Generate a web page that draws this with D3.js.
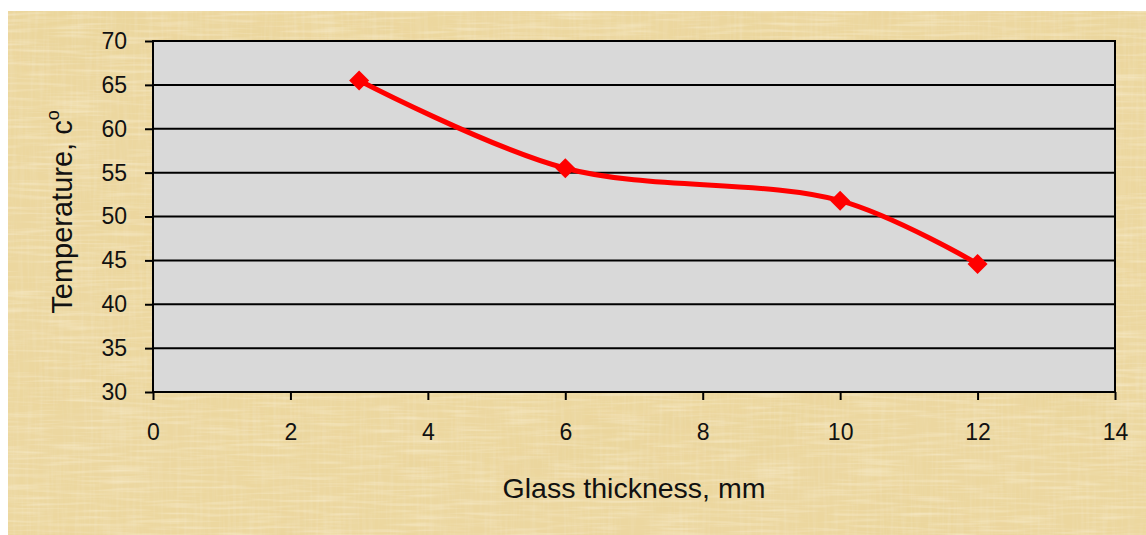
<!DOCTYPE html>
<html>
<head>
<meta charset="utf-8">
<script src="https://cdn.jsdelivr.net/npm/d3@7"></script>
<style>
  html, body { margin: 0; padding: 0; background: #ffffff; }
  svg { display: block; }
  text { font-family: "Liberation Sans", Arial, sans-serif; fill: #111; }
</style>
</head>
<body>
<svg id="chart" width="1146" height="535"></svg>
<script>
// Glass thickness (mm) against measured temperature (°C)
const thickness = [3, 6, 10, 12];
const temperature = [65.5, 55.5, 51.8, 44.6];
const xTickValues = [0, 2, 4, 6, 8, 10, 12, 14];
const yTickValues = [30, 35, 40, 45, 50, 55, 60, 65, 70];
const xTitle = "Glass thickness, mm";
const yTitle = "Temperature, c";
const yTitleSup = "o";

const W = 1146, H = 535;
const plot = { left: 153, right: 1115, top: 41, bottom: 392 };

const svg = d3.select("#chart");
const defs = svg.append("defs");

// Parchment-like backdrop: golden mottling plus a fine woven grain
function noiseFilter(id, freq, octaves, seed, matrix) {
  const f = defs.append("filter").attr("id", id)
    .attr("x", 0).attr("y", 0).attr("width", "100%").attr("height", "100%");
  f.append("feTurbulence").attr("type", "fractalNoise")
    .attr("baseFrequency", freq).attr("numOctaves", octaves).attr("seed", seed).attr("result", "n");
  f.append("feColorMatrix").attr("in", "n").attr("type", "matrix").attr("values", matrix);
}
noiseFilter("blot", "0.007 0.01", 4, 5,
  "0 0 0 0 0.83  0 0 0 0 0.67  0 0 0 0 0.33  1.7 0 0 0 -0.66");
noiseFilter("fibreV", "0.3 0.02", 2, 3,
  "0 0 0 0 0.86  0 0 0 0 0.73  0 0 0 0 0.44  1.2 0 0 0 -0.50");
noiseFilter("fibreH", "0.02 0.3", 2, 11,
  "0 0 0 0 0.97  0 0 0 0 0.90  0 0 0 0 0.72  1.0 0 0 0 -0.45");

const bg = svg.append("g");
["none", "url(#blot)", "url(#fibreV)", "url(#fibreH)"].forEach((flt, i) => {
  const r = bg.append("rect").attr("x", 8).attr("y", 11)
    .attr("width", W - 8).attr("height", H - 11);
  if (i === 0) r.attr("fill", "#ecd7a0");
  else r.attr("filter", flt);
});

// Scales
const x = d3.scaleLinear().domain([0, 14]).range([plot.left, plot.right]);
const y = d3.scaleLinear().domain([30, 70]).range([plot.bottom, plot.top]);

// Plot area
svg.append("rect")
  .attr("x", plot.left).attr("y", plot.top)
  .attr("width", plot.right - plot.left).attr("height", plot.bottom - plot.top)
  .attr("fill", "#d9d9d9");

// Horizontal gridlines
svg.append("g").selectAll("line").data(yTickValues).join("line")
  .attr("x1", plot.left).attr("x2", plot.right)
  .attr("y1", d => y(d)).attr("y2", d => y(d))
  .attr("stroke", "#000").attr("stroke-width", 2);

// Plot border
svg.append("rect")
  .attr("x", plot.left).attr("y", plot.top)
  .attr("width", plot.right - plot.left).attr("height", plot.bottom - plot.top)
  .attr("fill", "none").attr("stroke", "#000").attr("stroke-width", 2);

// Axes
const yAxis = d3.axisLeft(y).tickValues(yTickValues).tickSize(8).tickPadding(18)
  .tickFormat(d3.format("d"));
const gy = svg.append("g").attr("transform", `translate(${plot.left},0)`).call(yAxis);
gy.select(".domain").remove();
gy.selectAll(".tick line").attr("stroke", "#000").attr("stroke-width", 2);
gy.selectAll(".tick text").attr("font-size", 23).attr("fill", "#111")
  .style("font-family", "'Liberation Sans', Arial, sans-serif");

const xAxis = d3.axisBottom(x).tickValues(xTickValues).tickSize(8).tickPadding(24)
  .tickFormat(d3.format("d"));
const gx = svg.append("g").attr("transform", `translate(0,${plot.bottom})`).call(xAxis);
gx.select(".domain").remove();
gx.selectAll(".tick line").attr("stroke", "#000").attr("stroke-width", 2);
gx.selectAll(".tick text").attr("font-size", 23).attr("fill", "#111")
  .style("font-family", "'Liberation Sans', Arial, sans-serif");

// Axis titles, centred on the plot area
svg.append("text")
  .attr("x", (plot.left + plot.right) / 2).attr("y", 498)
  .attr("text-anchor", "middle").attr("font-size", 28.5)
  .text(xTitle);

const yt = svg.append("text")
  .attr("transform", "translate(72,212) rotate(-90)")
  .attr("text-anchor", "middle").attr("font-size", 29);
yt.append("tspan").text(yTitle);
yt.append("tspan").attr("font-size", 18).attr("dy", -13).text(yTitleSup);

// Series line
const pts = thickness.map((t, i) => [t, temperature[i]]);
const line = d3.line().x(d => x(d[0])).y(d => y(d[1])).curve(d3.curveCatmullRom.alpha(0.5));
svg.append("path").datum(pts)
  .attr("d", line)
  .attr("fill", "none").attr("stroke", "#ff0000").attr("stroke-width", 5)
  .attr("stroke-linejoin", "round");

// Diamond markers
const diamond = d3.symbol().type(d3.symbolSquare).size(200);
svg.append("g").selectAll("path").data(pts).join("path")
  .attr("d", diamond)
  .attr("transform", d => `translate(${x(d[0])},${y(d[1])}) rotate(45)`)
  .attr("fill", "#ff0000");
</script>
</body>
</html>
